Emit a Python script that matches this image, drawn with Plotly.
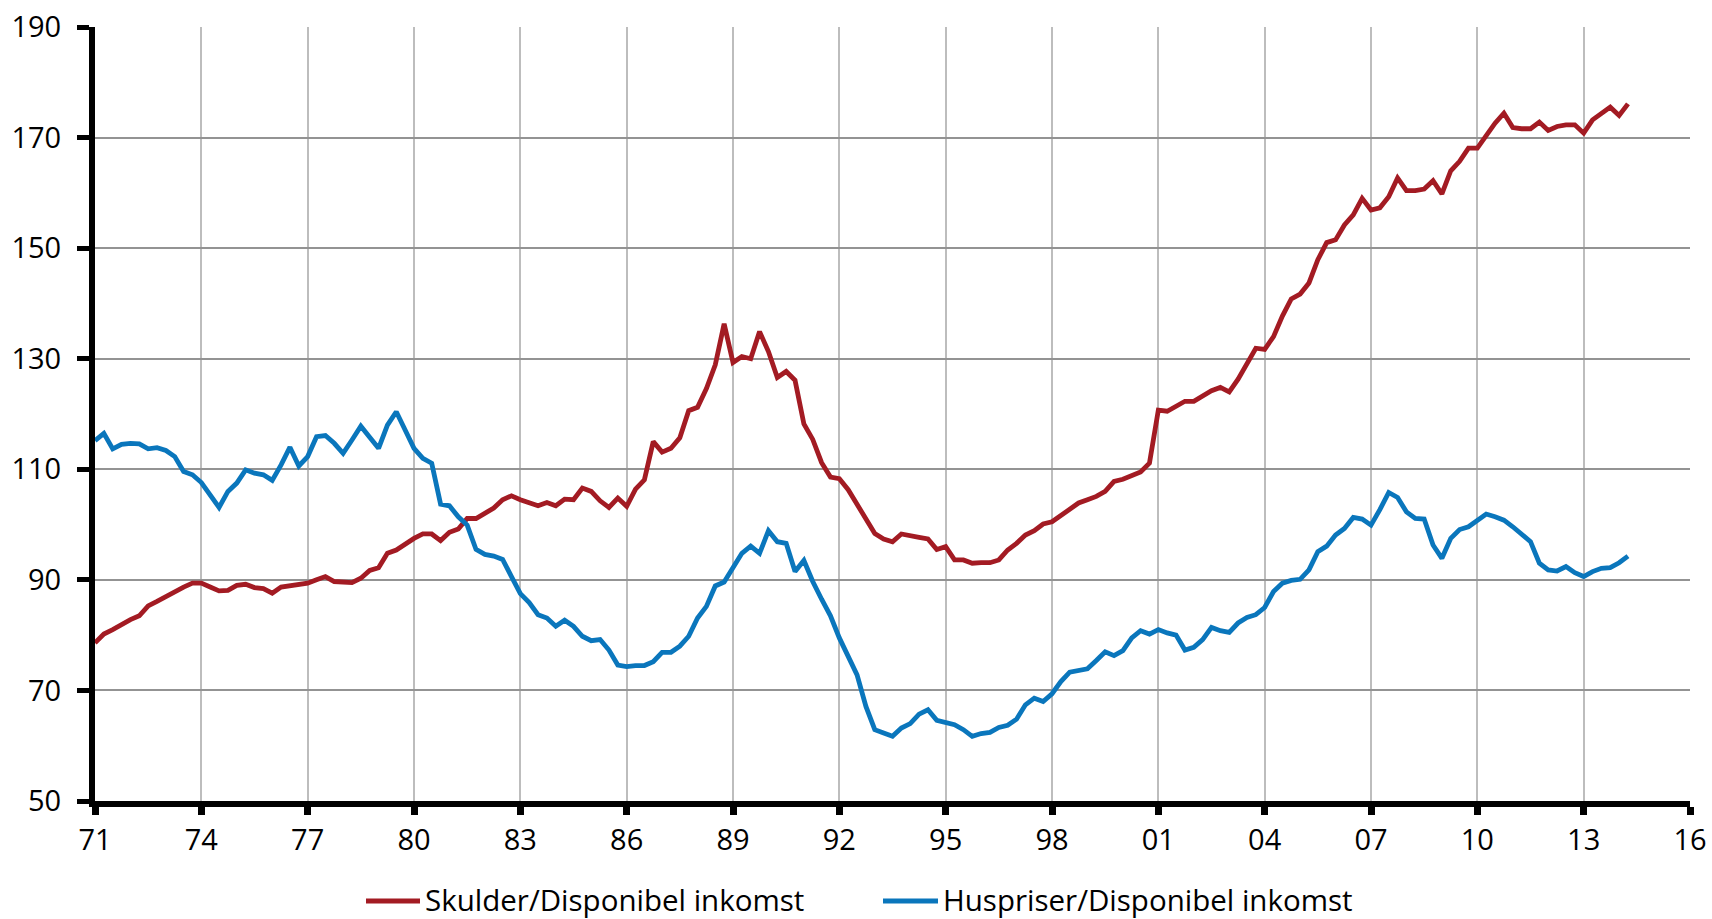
import plotly.graph_objects as go

# Quarterly observations, 1971Q1 .. 2014Q2
start_year = 1971
n_quarters = 174
quarters = [start_year + i * 0.25 for i in range(n_quarters)]

skulder = [
    78.6, 80.2, 81.0, 82.0,
    82.8, 83.5, 85.3, 86.1,
    87.0, 87.7, 88.7, 89.4,
    89.4, 88.7, 88.0, 88.1,
    89.0, 89.2, 88.6, 88.4,
    87.6, 88.7, 89.0, 89.1,
    89.4, 90.0, 90.6, 89.7,
    89.6, 89.5, 90.3, 91.7,
    92.2, 94.8, 95.4, 96.5,
    97.5, 98.3, 98.3, 97.1,
    98.6, 99.2, 101.1, 101.1,
    102.0, 103.0, 104.5, 105.2,
    104.5, 104.0, 103.4, 104.0,
    103.4, 104.6, 104.5, 106.6,
    106.0, 104.3, 103.1, 104.8,
    103.3, 106.4, 108.1, 115.0,
    113.1, 113.8, 115.7, 120.6,
    121.2, 124.6, 128.9, 136.3,
    129.3, 130.4, 130.0, 134.9,
    131.3, 126.6, 127.7, 126.1,
    118.2, 115.4, 111.2, 108.6,
    108.3, 106.3, 103.7, 101.3,
    98.4, 97.4, 96.9, 98.3,
    98.1, 97.7, 97.4, 95.5,
    96.0, 93.6, 93.6, 93.0,
    93.1, 93.1, 93.6, 95.4,
    96.6, 98.1, 98.9, 100.1,
    100.5, 101.6, 102.7, 103.9,
    104.5, 105.1, 106.0, 107.8,
    108.2, 108.8, 109.5, 111.1,
    120.7, 120.5, 121.3, 122.3,
    122.3, 123.3, 124.2, 124.8,
    124.0, 126.3, 128.9, 131.9,
    131.7, 134.0, 137.7, 140.8,
    141.7, 143.7, 147.9, 151.0,
    151.5, 154.2, 156.0, 159.0,
    156.9, 157.3, 159.3, 162.7,
    160.4, 160.4, 160.7, 162.2,
    159.8, 164.0, 165.7, 168.1,
    168.1, 170.5, 172.6, 174.4,
    171.8, 171.6, 171.6, 172.8,
    171.3, 172.0, 172.3, 172.3,
    170.8, 173.2, 174.3, 175.5,
    174.0, 176.1,
]

huspriser = [
    115.2, 116.5, 113.7, 114.5,
    114.7, 114.6, 113.7, 113.9,
    113.4, 112.3, 109.6, 109.0,
    107.6, 105.2, 103.1, 106.0,
    107.5, 109.9, 109.3, 109.0,
    108.0, 110.8, 114.0, 110.6,
    112.3, 115.9, 116.1, 114.7,
    112.9, 115.3, 117.8, 115.8,
    113.8, 118.0, 120.4, 117.1,
    113.8, 112.0, 111.1, 103.7,
    103.4, 101.4, 99.9, 95.5,
    94.6, 94.3, 93.7, 90.6,
    87.5, 85.9, 83.7, 83.1,
    81.6, 82.7, 81.6, 79.8,
    79.0, 79.2, 77.3, 74.6,
    74.3, 74.5, 74.5, 75.2,
    76.9, 76.9, 78.0, 79.8,
    83.1, 85.2, 88.9, 89.6,
    92.3, 94.8, 96.1, 94.8,
    98.9, 96.9, 96.6, 91.5,
    93.5, 89.7, 86.5, 83.5,
    79.5, 76.0, 72.8, 67.1,
    62.9, 62.3, 61.7, 63.2,
    64.0, 65.7, 66.5, 64.6,
    64.1, 63.8, 62.9, 61.7,
    62.2, 62.4, 63.3, 63.7,
    64.8, 67.4, 68.6, 68.0,
    69.4, 71.6, 73.3, 73.6,
    73.9, 75.4, 77.0, 76.3,
    77.2, 79.5, 80.8, 80.2,
    81.0, 80.4, 80.0, 77.3,
    77.8, 79.2, 81.4, 80.8,
    80.5, 82.2, 83.2, 83.7,
    85.0, 87.9, 89.4, 89.9,
    90.1, 91.8, 95.1, 96.1,
    98.1, 99.3, 101.3, 101.0,
    99.9, 102.7, 105.8, 104.9,
    102.3, 101.1, 101.0, 96.3,
    93.9, 97.5, 99.1, 99.6,
    100.8, 101.9, 101.4, 100.8,
    99.6, 98.3, 96.9, 93.0,
    91.8, 91.6, 92.4, 91.3,
    90.6, 91.5, 92.1, 92.2,
    93.1, 94.3,
]

series_names = ["Skulder/Disponibel inkomst", "Huspriser/Disponibel inkomst"]
x_tick_values = list(range(1971, 2017, 3))
x_tick_labels = ["71", "74", "77", "80", "83", "86", "89", "92", "95", "98",
                 "01", "04", "07", "10", "13", "16"]
y_tick_values = [50, 70, 90, 110, 130, 150, 170, 190]

RED = "#A31B23"
BLUE = "#0A76BC"
FONT = "Open Sans"
colors = [RED, BLUE]

W, H = 1712, 919
ML, MR, MT, MB = 95, 22, 27, 118
PW, PH = W - ML - MR, H - MT - MB

def px_x(p):
    return (p - ML) / PW

def px_y(p):
    return (H - MB - p) / PH

fig = go.Figure()
for name, vals, col in zip(series_names, [skulder, huspriser], colors):
    fig.add_trace(go.Scatter(x=quarters, y=vals, mode="lines", name=name,
                             line=dict(color=col, width=4.8), showlegend=False))

# legend drawn below the plot (line sample + text)
legend_y = 899
legend_items = [(366, 420, 424), (883, 938, 942)]
shapes = []
annotations = []
for (x0, x1, xt), name, col in zip(legend_items, series_names, colors):
    shapes.append(dict(type="line", xref="paper", yref="paper",
                       x0=px_x(x0), x1=px_x(x1), y0=px_y(legend_y + 2), y1=px_y(legend_y + 2),
                       line=dict(color=col, width=5)))
    annotations.append(dict(xref="paper", yref="paper", x=px_x(xt), y=px_y(legend_y),
                            xanchor="left", yanchor="middle", text=name, showarrow=False,
                            borderpad=0,
                            font=dict(family=FONT, size=29.5, color="black")))

fig.update_layout(
    width=W, height=H,
    margin=dict(l=ML, r=MR, t=MT, b=MB),
    paper_bgcolor="white", plot_bgcolor="white",
    font=dict(family=FONT, size=29, color="black"),
    showlegend=False,
    shapes=shapes,
    annotations=annotations,
    xaxis=dict(range=[1971, 2016], tickmode="array", tickvals=x_tick_values,
               ticktext=x_tick_labels, showgrid=True, gridcolor="#BDBDBD", gridwidth=2,
               showline=True, linecolor="black", linewidth=6, ticks="outside",
               ticklen=8, tickwidth=7, tickcolor="black", zeroline=False,
               automargin=False,
               tickfont=dict(family=FONT, size=29, color="black")),
    yaxis=dict(range=[50, 190], tickmode="array", tickvals=y_tick_values,
               showgrid=True, gridcolor="#939393", gridwidth=2,
               showline=True, linecolor="black", linewidth=6, ticks="outside",
               ticklen=12, tickwidth=5, tickcolor="black", zeroline=False,
               ticklabelstandoff=10, automargin=False,
               tickfont=dict(family=FONT, size=29, color="black")),
)

fig.write_html("out.html")
